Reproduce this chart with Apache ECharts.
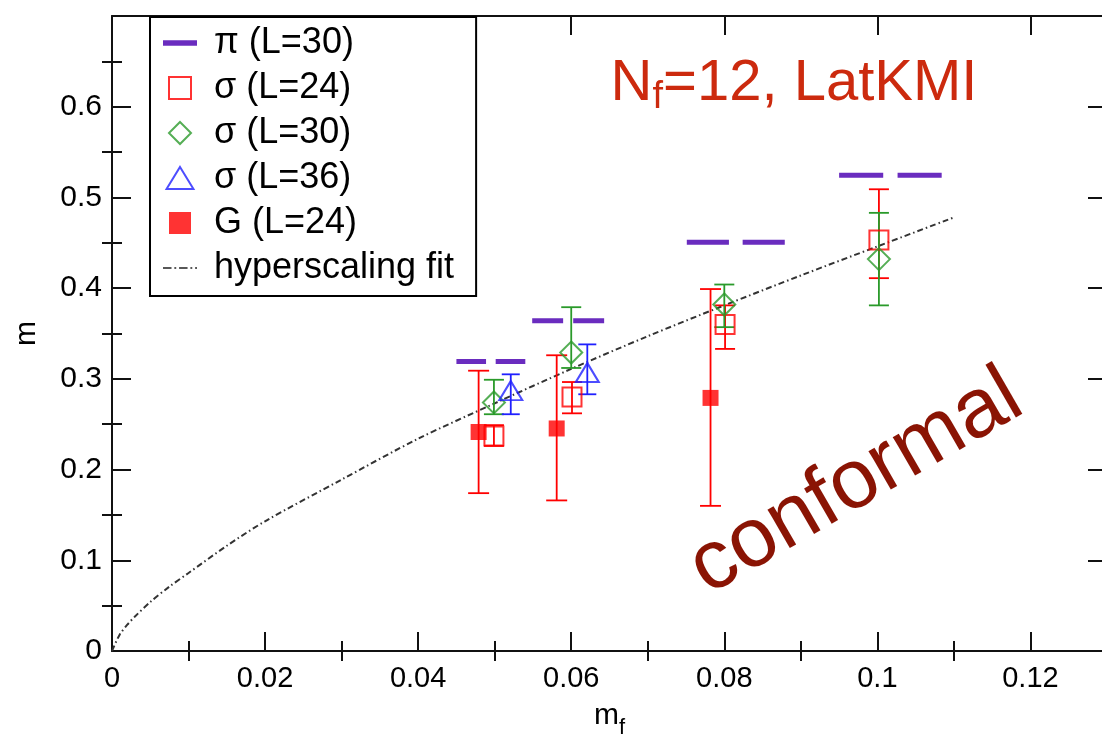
<!DOCTYPE html>
<html><head><meta charset="utf-8">
<script src="https://cdn.jsdelivr.net/npm/echarts@6/dist/echarts.min.js"></script>
<style>html,body{margin:0;padding:0;background:#fff}#c{width:1102px;height:737px}</style>
</head><body><div id="c"></div>
<script>
// ---- tick values ----
const xTicks = [0, 0.02, 0.04, 0.06, 0.08, 0.10, 0.12];
const xMinorTicks = [0.01, 0.03, 0.05, 0.07, 0.09, 0.11];
const yTicks = [0, 0.1, 0.2, 0.3, 0.4, 0.5, 0.6];
const yMinorTicks = [0.05, 0.15, 0.25, 0.35, 0.45, 0.55, 0.65];

// ---- pi (L=30): centre, half width, value ----
const piX = [0.0495, 0.0596, 0.0815, 0.1017];
const piHalfWidth = [0.0045, 0.0047, 0.0064, 0.0067];
const piY = [0.319, 0.364, 0.4505, 0.5245];

// ---- sigma (L=24) ----
const sigma24X = [0.0499, 0.0601, 0.0801, 0.1002];
const sigma24Y = [0.237, 0.280, 0.360, 0.453];
const sigma24Lo = [0.226, 0.262, 0.333, 0.411];
const sigma24Hi = [0.249, 0.2965, 0.381, 0.509];

// ---- sigma (L=30) ----
const sigma30X = [0.0499, 0.0600, 0.0800, 0.1002];
const sigma30Y = [0.274, 0.329, 0.382, 0.432];
const sigma30Lo = [0.261, 0.312, 0.357, 0.381];
const sigma30Hi = [0.299, 0.379, 0.404, 0.483];

// ---- sigma (L=36) ----
const sigma36X = [0.0521, 0.0621];
const sigma36Y = [0.287, 0.307];
const sigma36Lo = [0.261, 0.283];
const sigma36Hi = [0.305, 0.338];

// ---- G (L=24) ----
const gX = [0.0479, 0.0581, 0.0782];
const gY = [0.2414, 0.2453, 0.279];
const gLo = [0.174, 0.166, 0.160];
const gHi = [0.309, 0.326, 0.399];

// ---- hyperscaling fit ----
const fitX = [0, 0.001, 0.002, 0.003, 0.005, 0.0075, 0.01, 0.015, 0.02, 0.03, 0.04, 0.05, 0.06, 0.07, 0.08, 0.09, 0.10, 0.11];
const fitY = [0, 0.018, 0.029, 0.038, 0.054, 0.071, 0.086, 0.116, 0.143, 0.189, 0.234, 0.273, 0.311, 0.347, 0.381, 0.414, 0.446, 0.478];

const legendNames = ['π (L=30)', 'σ (L=24)', 'σ (L=30)', 'σ (L=36)', 'G (L=24)', 'hyperscaling fit'];

const FONT = 'Liberation Sans, Arial, Helvetica, sans-serif';
const C_PI = '#6a2cbf', C_RED = '#ff0000', C_GREEN = '#2a9a2a', C_BLUE = '#2020ff';

const zip = (...arrs) => arrs[0].map((_, i) => arrs.map(a => a[i]));
const fmt = v => (v === 0 ? '0' : String(+v.toFixed(2)));

function errSeries(name, xs, lo, hi, color, capW) {
  return {
    type: 'custom', name: name, xAxisIndex: 0, yAxisIndex: 0, z: 2,
    data: zip(xs, lo, hi),
    encode: { x: 0, y: [1, 2] },
    renderItem: function (params, api) {
      const x = api.value(0);
      const a = api.coord([x, api.value(1)]);
      const b = api.coord([x, api.value(2)]);
      const st = { stroke: color, lineWidth: 1.8 };
      return {
        type: 'group',
        children: [
          { type: 'line', shape: { x1: a[0], y1: a[1], x2: b[0], y2: b[1] }, style: st },
          { type: 'line', shape: { x1: a[0] - capW / 2, y1: a[1], x2: a[0] + capW / 2, y2: a[1] }, style: st },
          { type: 'line', shape: { x1: b[0] - capW / 2, y1: b[1], x2: b[0] + capW / 2, y2: b[1] }, style: st }
        ]
      };
    }
  };
}

function axisCommon(extra) {
  return Object.assign({
    type: 'value', splitLine: { show: false },
    axisLine: { show: true, onZero: false, lineStyle: { color: '#111', width: 2 } },
    axisLabel: { show: false },
    axisTick: { show: true, inside: true, length: 19, lineStyle: { color: '#111', width: 2 } }
  }, extra);
}
function ticks(values, len) {
  return { show: true, inside: true, length: len, customValues: values, lineStyle: { color: '#111', width: 2 } };
}

const chart = echarts.init(document.getElementById('c'), null, { renderer: 'canvas' });
const option = {
  animation: false,
  backgroundColor: '#fff',
  grid: { left: 112, top: 16, right: -5, bottom: 86, containLabel: false, outerBoundsMode: 'none' },
  xAxis: [
    axisCommon({ position: 'bottom', min: 0, max: 0.13, axisTick: ticks(xTicks, 19),
      axisLabel: { show: true, customValues: xTicks, formatter: fmt, fontSize: 29, fontFamily: FONT, color: '#000', margin: 13 },
      name: '{a|m}{b|f}', nameLocation: 'middle', nameGap: 50,
      nameTextStyle: { rich: { a: { fontSize: 30, fontFamily: FONT, color: '#000', verticalAlign: 'top' },
                               b: { fontSize: 22, fontFamily: FONT, color: '#000', verticalAlign: 'bottom', padding: [0, 0, -8, 0] } } } }),
    axisCommon({ position: 'bottom', min: 0, max: 0.13, axisLine: { show: false }, axisTick: ticks(xMinorTicks, 10) }),
    axisCommon({ position: 'top', min: 0, max: 0.13, axisTick: ticks(xTicks, 19) }),
    axisCommon({ position: 'top', min: 0, max: 0.13, axisLine: { show: false }, axisTick: ticks(xMinorTicks, 10) })
  ],
  yAxis: [
    axisCommon({ position: 'left', min: 0, max: 0.7, axisTick: ticks(yTicks, 19),
      axisLabel: { show: true, customValues: yTicks, formatter: fmt, fontSize: 30, fontFamily: FONT, color: '#000', margin: 10 },
      name: 'm', nameLocation: 'middle', nameGap: 70,
      nameTextStyle: { fontSize: 30, fontFamily: FONT, color: '#000' } }),
    axisCommon({ position: 'left', min: 0, max: 0.7, axisLine: { show: false }, axisTick: ticks(yMinorTicks, 10) }),
    axisCommon({ position: 'right', min: 0, max: 0.7, axisTick: ticks(yTicks, 19) }),
    axisCommon({ position: 'right', min: 0, max: 0.7, axisLine: { show: false }, axisTick: ticks(yMinorTicks, 10) })
  ],
  legend: {
    orient: 'vertical', left: 150, top: 17,
    padding: [8, 22, 10, 13], itemGap: 9, itemWidth: 34, itemHeight: 22,
    borderColor: '#000', borderWidth: 2, backgroundColor: '#fff',
    textStyle: { fontSize: 36, fontFamily: FONT, color: '#000', padding: [0, 0, 0, 12] },
    selectedMode: false,
    data: [
      { name: legendNames[0], icon: 'path://M0,0H30V5H0Z', itemStyle: { color: C_PI } },
      { name: legendNames[1], icon: 'path://M0,0H10V10H0Z' },
      { name: legendNames[2], icon: 'path://M5,0L10,5L5,10L0,5Z' },
      { name: legendNames[3], icon: 'path://M5,0L10.5,9L-0.5,9Z' },
      { name: legendNames[4], icon: 'path://M0,0H10V10H0Z' },
      { name: legendNames[5], icon: 'path://M0,0H9V1.6H0ZM12,0H14V1.6H12ZM17,0H26V1.6H17ZM29,0H31V1.6H29ZM34,0H36V1.6H34Z',
        itemStyle: { color: '#222', borderWidth: 0 } }
    ]
  },
  graphic: [
    { type: 'text', x: 794, y: 55, z: 10,
      style: { text: '{a|N}{b|f}{a|=12, LatKMI}', align: 'center', verticalAlign: 'top',
        rich: { a: { fontSize: 58, fontFamily: FONT, fill: '#cc2a0e' },
                b: { fontSize: 38, fontFamily: FONT, fill: '#cc2a0e', verticalAlign: 'bottom', padding: [0, 0, -4, 0] } } } },
    { type: 'text', x: 856, y: 483, rotation: Math.PI / 6, z: 10,
      style: { text: 'conformal', align: 'center', verticalAlign: 'middle', fontSize: 84, fontFamily: FONT, fill: '#8a1404' } }
  ],
  series: [
    { type: 'line', name: legendNames[5], data: zip(fitX, fitY), smooth: 0.3, symbol: 'none', z: 1,
      lineStyle: { color: '#333', width: 2, type: [6, 3, 1.5, 3] }, itemStyle: { color: '#333' } },
    { type: 'custom', name: legendNames[0], z: 3, itemStyle: { color: C_PI },
      data: zip(piX, piY, piHalfWidth), encode: { x: 0, y: 1 },
      renderItem: function (params, api) {
        const x = api.value(0), y = api.value(1), hw = api.value(2);
        const a = api.coord([x - hw, y]);
        const b = api.coord([x + hw, y]);
        const L = b[0] - a[0];
        return { type: 'line', shape: { x1: a[0], y1: a[1], x2: b[0], y2: b[1] },
          style: { stroke: C_PI, lineWidth: 5, lineDash: [L * 0.43, L * 0.14] } };
      } },
    { type: 'scatter', name: legendNames[1], data: zip(sigma24X, sigma24Y), symbol: 'rect', symbolSize: 19, z: 4,
      itemStyle: { color: 'rgba(255,255,255,0)', borderColor: C_RED, borderWidth: 2 } },
    { type: 'scatter', name: legendNames[2], data: zip(sigma30X, sigma30Y), symbol: 'diamond', symbolSize: [22, 22], z: 4,
      itemStyle: { color: 'rgba(255,255,255,0)', borderColor: C_GREEN, borderWidth: 2 } },
    { type: 'scatter', name: legendNames[3], data: zip(sigma36X, sigma36Y), symbol: 'triangle', symbolSize: [23, 19], z: 4,
      itemStyle: { color: 'rgba(255,255,255,0)', borderColor: C_BLUE, borderWidth: 2 } },
    { type: 'scatter', name: legendNames[4], data: zip(gX, gY), symbol: 'rect', symbolSize: 16, z: 4,
      itemStyle: { color: C_RED } },
    errSeries('err24', sigma24X, sigma24Lo, sigma24Hi, C_RED, 20),
    errSeries('err30', sigma30X, sigma30Lo, sigma30Hi, C_GREEN, 20),
    errSeries('err36', sigma36X, sigma36Lo, sigma36Hi, C_BLUE, 18),
    errSeries('errG', gX, gLo, gHi, C_RED, 21)
  ]
};
chart.setOption(option);
</script>
</body></html>
